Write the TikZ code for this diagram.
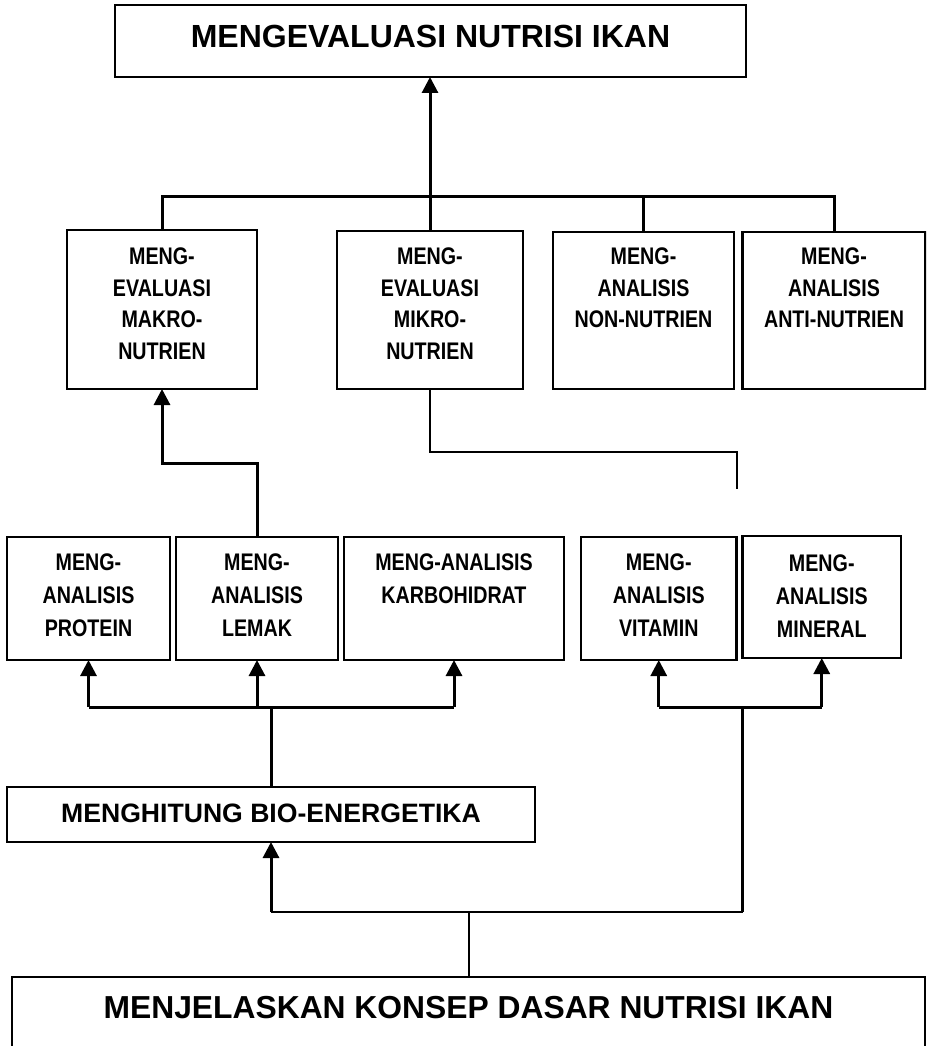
\documentclass[tikz,border=0pt]{standalone}
\usepackage{fontspec}
\setmainfont{Liberation Sans}
\newfontfamily\narrowfont[FakeStretch=0.82]{Liberation Sans}
\usetikzlibrary{arrows.meta}
\newcommand\boxc[4]{\vbox to #2{\offinterlineskip\hsize=#1\relax\kern#3\relax #4\vss}}
\newcommand\tline[1]{\hbox to \hsize{\hss\smash{#1}\hss}}
\newcommand\gapm{\kern31.5pt\relax}
\newcommand\gapb{\kern33pt\relax}
\tikzset{
  box/.style={draw, line width=2.6pt, inner sep=0pt, outer sep=0pt},
  midtxt/.style={font=\narrowfont\bfseries\fontsize{24}{24}\selectfont},
  conn/.style={line width=3pt},
  thinconn/.style={line width=2.2pt},
  arr/.style={line width=3pt, -{Triangle[width=16pt,length=16pt]}}
}
\begin{document}
\begin{tikzpicture}[x=1pt,y=-1pt]
\path[fill=white] (0,0) rectangle (926,1046);
\useasboundingbox (0,0) rectangle (926,1046);
\clip (0,0) rectangle (926,1046);

% top
\node[box, font=\bfseries\fontsize{32}{32}\selectfont] (top) at (430.5,41)
  {\boxc{631pt}{72pt}{42.5pt}{\tline{MENGEVALUASI NUTRISI IKAN}}};

% middle row
\node[box, midtxt] (makro) at (162,309.5)
  {\boxc{190pt}{159pt}{34.6pt}{\tline{MENG-}\gapm\tline{EVALUASI}\gapm\tline{MAKRO-}\gapm\tline{NUTRIEN}}};
\node[box, midtxt] (mikro) at (430,310)
  {\boxc{186pt}{158pt}{33.6pt}{\tline{MENG-}\gapm\tline{EVALUASI}\gapm\tline{MIKRO-}\gapm\tline{NUTRIEN}}};
\node[box, midtxt] (nonnut) at (643.5,310.5)
  {\boxc{181pt}{157pt}{32.6pt}{\tline{MENG-}\gapm\tline{ANALISIS}\gapm\tline{NON-NUTRIEN}}};
\node[box, midtxt] (anti) at (834,310.5)
  {\boxc{183pt}{157pt}{32.6pt}{\tline{MENG-}\gapm\tline{ANALISIS}\gapm\tline{ANTI-NUTRIEN}}};

% lower row
\node[box, midtxt] (protein) at (88.5,598.5)
  {\boxc{163pt}{123pt}{33.6pt}{\tline{MENG-}\gapb\tline{ANALISIS}\gapb\tline{PROTEIN}}};
\node[box, midtxt] (lemak) at (257,598.5)
  {\boxc{162pt}{123pt}{33.6pt}{\tline{MENG-}\gapb\tline{ANALISIS}\gapb\tline{LEMAK}}};
\node[box, midtxt] (karbo) at (454,598.5)
  {\boxc{220pt}{123pt}{33.6pt}{\tline{MENG-ANALISIS}\gapb\tline{KARBOHIDRAT}}};
\node[box, midtxt] (vitamin) at (658.75,598.5)
  {\boxc{155.5pt}{123pt}{33.6pt}{\tline{MENG-}\gapb\tline{ANALISIS}\gapb\tline{VITAMIN}}};
\node[box, midtxt] (mineral) at (821.75,597)
  {\boxc{158.5pt}{122pt}{35.1pt}{\tline{MENG-}\gapb\tline{ANALISIS}\gapb\tline{MINERAL}}};

% bio-energetika
\node[box, font=\bfseries\fontsize{26.6}{26.6}\selectfont] (bio) at (271,814.5)
  {\boxc{528pt}{55pt}{35.5pt}{\tline{MENGHITUNG BIO-ENERGETIKA}}};

% bottom
\node[box, line width=2pt, font=\bfseries\fontsize{31.8}{31.8}\selectfont] (base) at (468.5,1018.5)
  {\boxc{913pt}{83pt}{41pt}{\tline{MENJELASKAN KONSEP DASAR NUTRISI IKAN}}};

% coordinates
\coordinate (bar) at (0,196);
\coordinate (L) at (0,463);
\coordinate (mk) at (0,452);
\coordinate (mfree) at (737,489);
\coordinate (B) at (0,707);
\coordinate (J1) at (469,912);
\coordinate (J2) at (742.5,912);

% to top
\draw[arr] (mikro.north) -- (mikro.north |- top.south);
\draw[conn] (makro.north) -- (makro.north |- bar) -- (anti.north |- bar) -- (anti.north);
\draw[conn] (nonnut.north) -- (nonnut.north |- bar);

% mikro free line
\draw[thinconn] (mikro.south) -- (mikro.south |- mk) -- (mfree |- mk) -- (mfree);

% lemak to makro
\draw[arr] (lemak.north) -- (lemak.north |- L) -| (makro.south);

% left bus
\draw[conn] (protein.south |- B) -- (karbo.south |- B);
\draw[arr] (protein.south |- B) -- (protein.south);
\draw[arr] (lemak.south |- B) -- (lemak.south);
\draw[arr] (karbo.south |- B) -- (karbo.south);
\draw[conn] (bio.north) -- (bio.north |- B);

% right bus
\draw[conn] (vitamin.south |- B) -- (mineral.south |- B);
\draw[arr] (vitamin.south |- B) -- (vitamin.south);
\draw[arr] (mineral.south |- B) -- (mineral.south);
\draw[thinconn] (J2 |- B) -- (J2);

% bottom bus
\draw[thinconn] (bio.south |- J1) -- (J2);
\draw[arr] (bio.south |- J1) -- (bio.south);
\draw[thinconn] (J1) -- (J1 |- base.north);
\end{tikzpicture}
\end{document}
